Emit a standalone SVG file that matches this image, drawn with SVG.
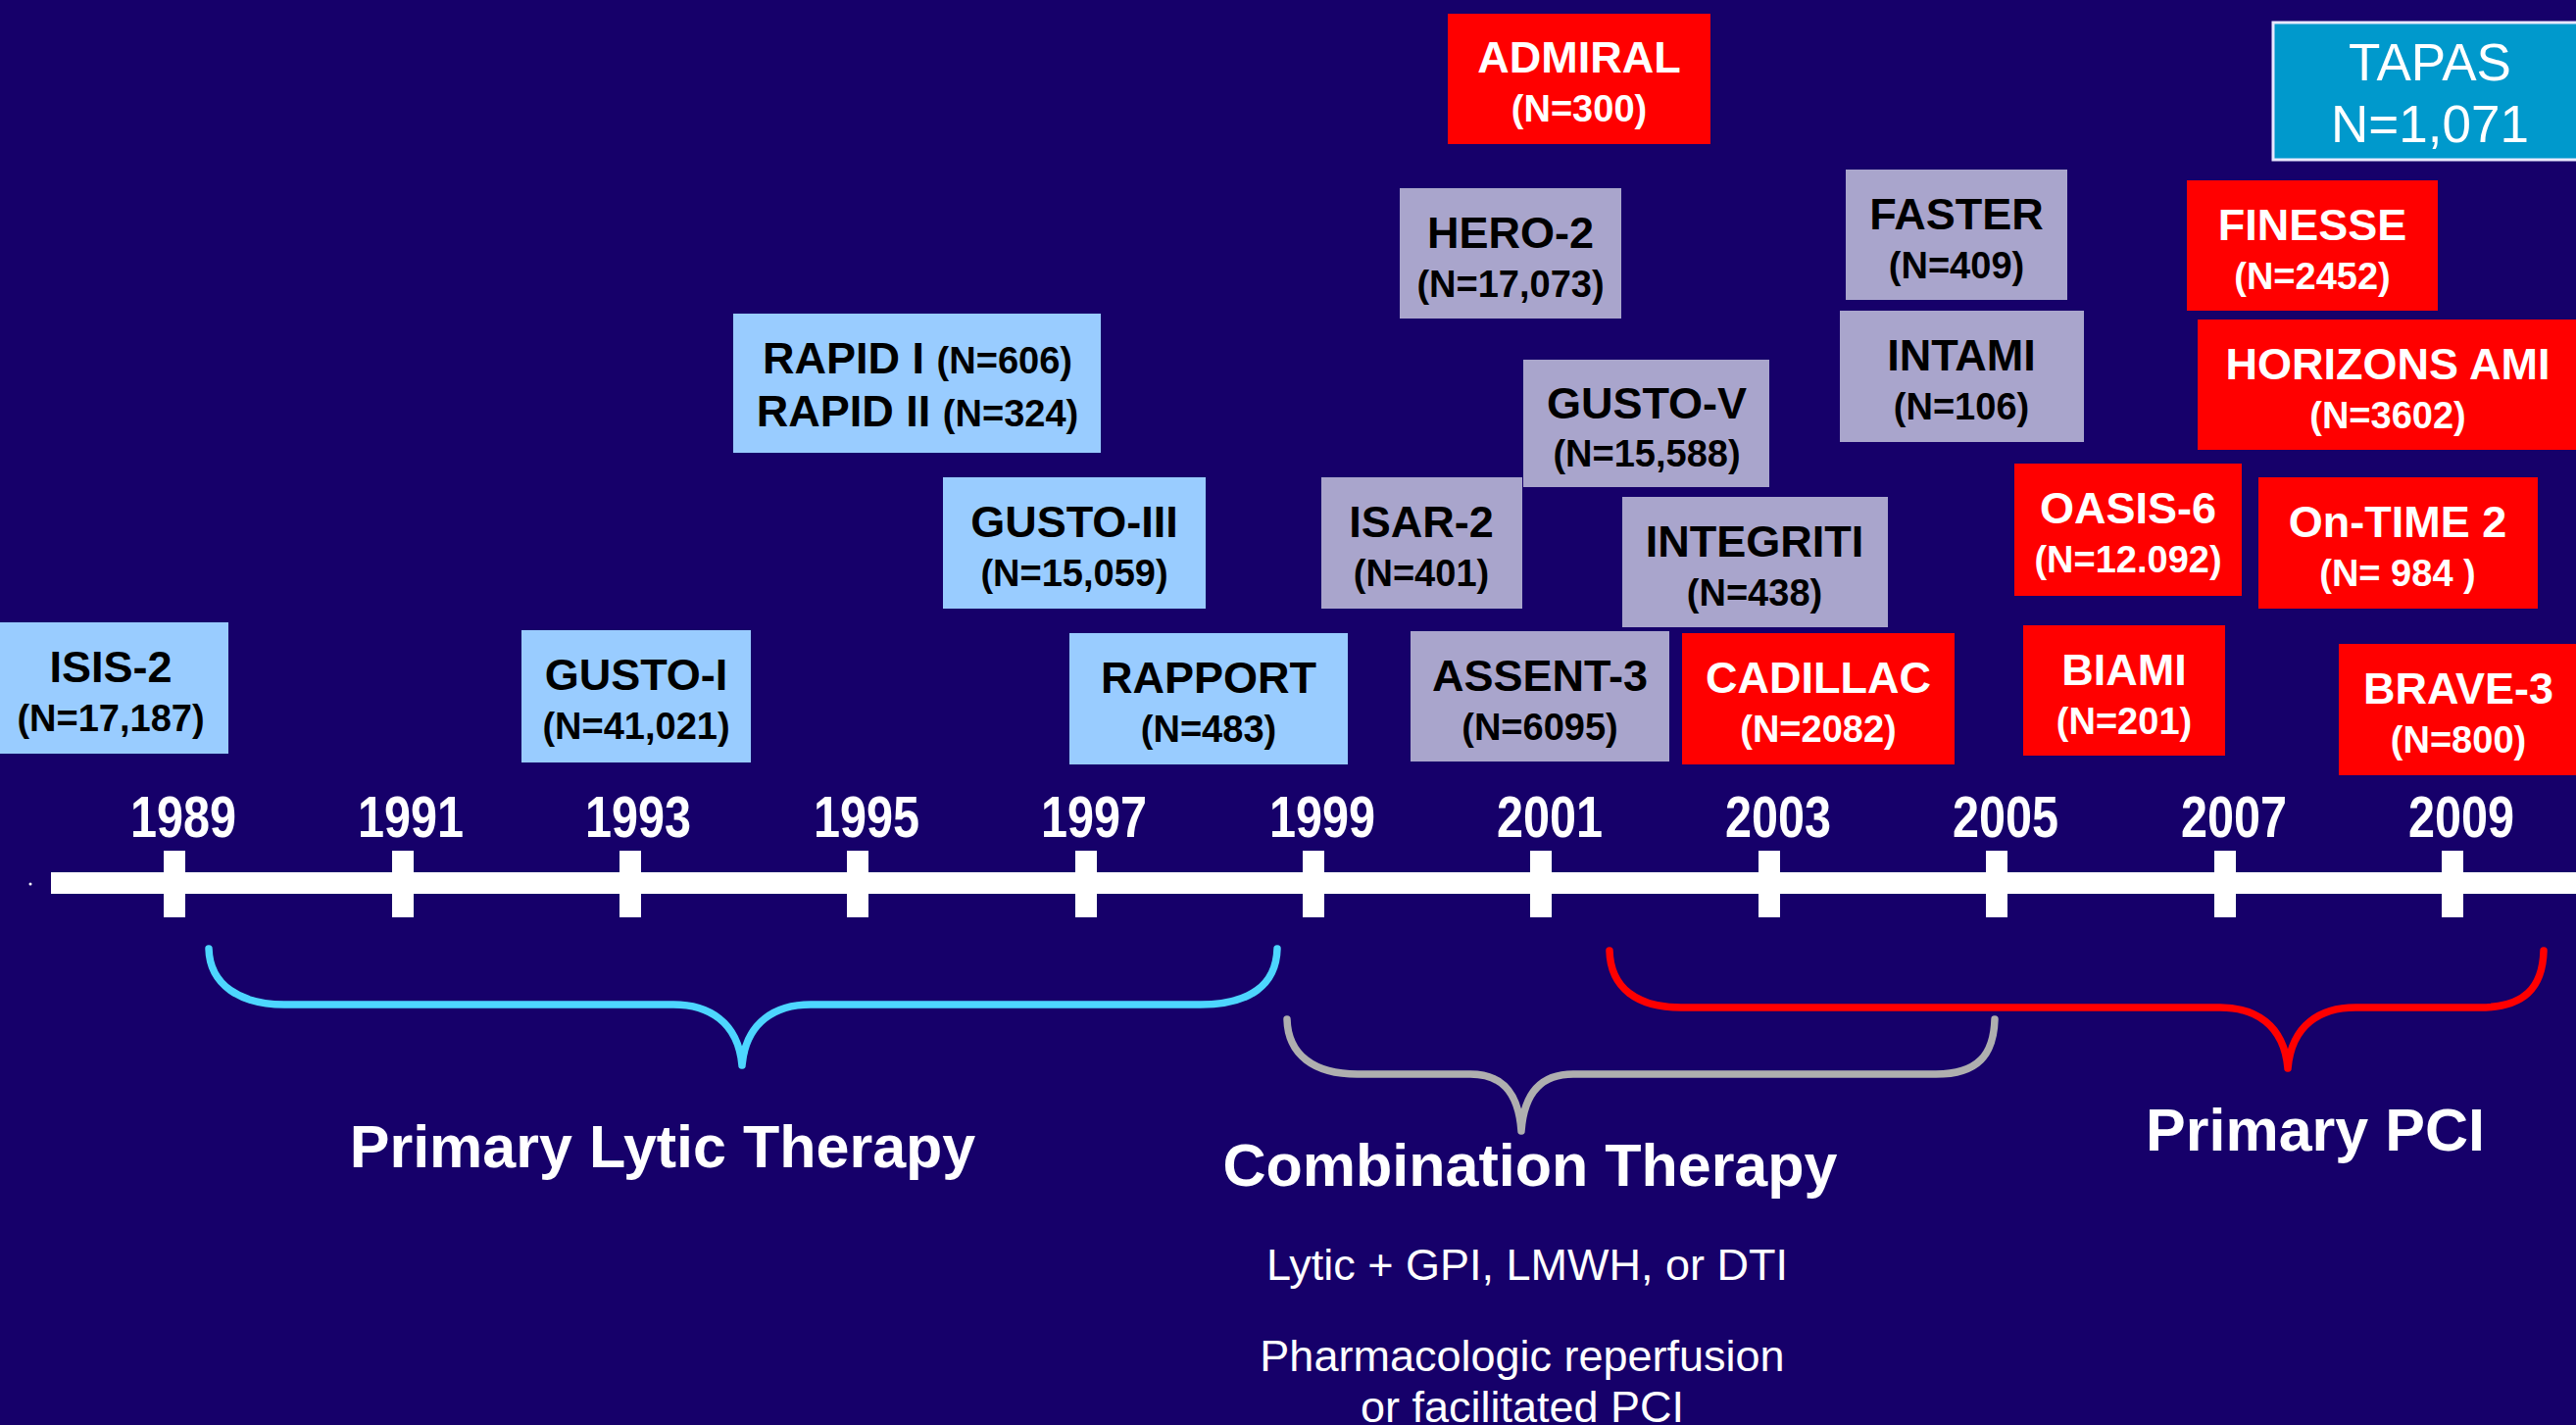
<svg xmlns="http://www.w3.org/2000/svg" width="2628" height="1454" viewBox="0 0 2628 1454">
<style>
  text { font-family: "Liberation Sans", Arial, sans-serif; }
  .blue { fill: #99CCFF; }
  .gray { fill: #A9A5CC; }
  .red { fill: #FF0000; }
  .t { font-size: 45px; font-weight: bold; text-anchor: middle; }
  .n { font-size: 38px; font-weight: bold; text-anchor: middle; }
  .dk { fill: #000000; }
  .wt { fill: #FFFFFF; }
  .yr { font-size: 60px; font-weight: bold; fill: #FFFFFF; text-anchor: middle; }
  .sec { font-size: 61px; font-weight: bold; fill: #FFFFFF; text-anchor: middle; }
  .sub { font-size: 45px; fill: #FFFFFF; text-anchor: middle; }
  .tick { fill: #FFFFFF; }
  .brace { fill: none; stroke-width: 7.5; stroke-linecap: round; stroke-linejoin: round; }
</style>
<rect x="0" y="0" width="2628" height="1454" fill="#16006A"/>

<!-- timeline axis -->
<g id="timeline">
  <circle cx="31" cy="902" r="1.5" fill="#FFFFFF"/>
  <rect x="52" y="890" width="2576" height="22" fill="#FFFFFF"/>
  <rect class="tick" x="167" y="868" width="22" height="68"/>
  <rect class="tick" x="400" y="868" width="22" height="68"/>
  <rect class="tick" x="632" y="868" width="22" height="68"/>
  <rect class="tick" x="864" y="868" width="22" height="68"/>
  <rect class="tick" x="1097" y="868" width="22" height="68"/>
  <rect class="tick" x="1329" y="868" width="22" height="68"/>
  <rect class="tick" x="1561" y="868" width="22" height="68"/>
  <rect class="tick" x="1794" y="868" width="22" height="68"/>
  <rect class="tick" x="2026" y="868" width="22" height="68"/>
  <rect class="tick" x="2259" y="868" width="22" height="68"/>
  <rect class="tick" x="2491" y="868" width="22" height="68"/>
  <text class="yr" x="187" y="854" textLength="108" lengthAdjust="spacingAndGlyphs">1989</text>
  <text class="yr" x="419" y="854" textLength="108" lengthAdjust="spacingAndGlyphs">1991</text>
  <text class="yr" x="651" y="854" textLength="108" lengthAdjust="spacingAndGlyphs">1993</text>
  <text class="yr" x="884" y="854" textLength="108" lengthAdjust="spacingAndGlyphs">1995</text>
  <text class="yr" x="1116" y="854" textLength="108" lengthAdjust="spacingAndGlyphs">1997</text>
  <text class="yr" x="1349" y="854" textLength="108" lengthAdjust="spacingAndGlyphs">1999</text>
  <text class="yr" x="1581" y="854" textLength="108" lengthAdjust="spacingAndGlyphs">2001</text>
  <text class="yr" x="1814" y="854" textLength="108" lengthAdjust="spacingAndGlyphs">2003</text>
  <text class="yr" x="2046" y="854" textLength="108" lengthAdjust="spacingAndGlyphs">2005</text>
  <text class="yr" x="2279" y="854" textLength="108" lengthAdjust="spacingAndGlyphs">2007</text>
  <text class="yr" x="2511" y="854" textLength="108" lengthAdjust="spacingAndGlyphs">2009</text>
</g>

<!-- braces -->
<g id="connectors">
  <path class="brace" stroke="#4DD6FF" d="M213,968 C214,1005 245,1025 290,1025 L687,1025 C722,1025 753,1042 757,1087 M757,1087 C761,1042 792,1025 827,1025 L1225,1025 C1275,1025 1302,1005 1303,968"/>
  <path class="brace" stroke="#AFAFAF" d="M1313,1040 C1314,1076 1340,1096 1385,1096 L1500,1096 C1530,1096 1549,1112 1552,1154 M1552,1154 C1555,1112 1575,1096 1605,1096 L1975,1096 C2018,1096 2034,1076 2035,1040"/>
  <path class="brace" stroke="#FF0000" d="M1642,970 C1643,1008 1670,1028 1715,1028 L2265,1028 C2300,1028 2330,1045 2334,1090 M2334,1090 C2338,1045 2368,1028 2403,1028 L2530,1028 C2575,1028 2594,1008 2595,970"/>
</g>

<!-- section labels -->
<g id="label-lytic"><text class="sec" x="676" y="1191">Primary Lytic Therapy</text></g>
<g id="label-combination">
  <text class="sec" x="1561" y="1210">Combination Therapy</text>
  <text class="sub" x="1558" y="1306">Lytic + GPI, LMWH, or DTI</text>
  <text class="sub" x="1553" y="1399">Pharmacologic reperfusion</text>
  <text class="sub" x="1553" y="1451">or facilitated PCI</text>
</g>
<g id="label-pci"><text class="sec" x="2362" y="1174">Primary PCI</text></g>

<!-- light blue: lytic trials -->
<g id="isis2"><rect class="blue" x="-2" y="635" width="235" height="134"/>
  <text class="t dk" x="113" y="696">ISIS-2</text><text class="n dk" x="113" y="746">(N=17,187)</text></g>
<g id="gusto1"><rect class="blue" x="532" y="643" width="234" height="135"/>
  <text class="t dk" x="649" y="704">GUSTO-I</text><text class="n dk" x="649" y="754">(N=41,021)</text></g>
<g id="rapid"><rect class="blue" x="748" y="320" width="375" height="142"/>
  <text class="t dk" x="936" y="381">RAPID I <tspan font-size="38px">(N=606)</tspan></text>
  <text class="t dk" x="936" y="435">RAPID II <tspan font-size="38px">(N=324)</tspan></text></g>
<g id="gusto3"><rect class="blue" x="962" y="487" width="268" height="134"/>
  <text class="t dk" x="1096" y="548">GUSTO-III</text><text class="n dk" x="1096" y="598">(N=15,059)</text></g>
<g id="rapport"><rect class="blue" x="1091" y="646" width="284" height="134"/>
  <text class="t dk" x="1233" y="707">RAPPORT</text><text class="n dk" x="1233" y="757">(N=483)</text></g>

<!-- gray: combination trials -->
<g id="hero2"><rect class="gray" x="1428" y="192" width="226" height="133"/>
  <text class="t dk" x="1541" y="253">HERO-2</text><text class="n dk" x="1541" y="303">(N=17,073)</text></g>
<g id="gusto5"><rect class="gray" x="1554" y="367" width="251" height="130"/>
  <text class="t dk" x="1680" y="427">GUSTO-V</text><text class="n dk" x="1680" y="476">(N=15,588)</text></g>
<g id="isar2"><rect class="gray" x="1348" y="487" width="205" height="134"/>
  <text class="t dk" x="1450" y="548">ISAR-2</text><text class="n dk" x="1450" y="598">(N=401)</text></g>
<g id="integriti"><rect class="gray" x="1655" y="507" width="271" height="133"/>
  <text class="t dk" x="1790" y="568">INTEGRITI</text><text class="n dk" x="1790" y="618">(N=438)</text></g>
<g id="assent3"><rect class="gray" x="1439" y="644" width="264" height="133"/>
  <text class="t dk" x="1571" y="705">ASSENT-3</text><text class="n dk" x="1571" y="755">(N=6095)</text></g>
<g id="faster"><rect class="gray" x="1883" y="173" width="226" height="133"/>
  <text class="t dk" x="1996" y="234">FASTER</text><text class="n dk" x="1996" y="284">(N=409)</text></g>
<g id="intami"><rect class="gray" x="1877" y="317" width="249" height="134"/>
  <text class="t dk" x="2001" y="378">INTAMI</text><text class="n dk" x="2001" y="428">(N=106)</text></g>

<!-- red: PCI trials -->
<g id="admiral"><rect class="red" x="1477" y="14" width="268" height="133"/>
  <text class="t wt" x="1611" y="74">ADMIRAL</text><text class="n wt" x="1611" y="124">(N=300)</text></g>
<g id="cadillac"><rect class="red" x="1716" y="646" width="278" height="134"/>
  <text class="t wt" x="1855" y="707">CADILLAC</text><text class="n wt" x="1855" y="757">(N=2082)</text></g>
<g id="finesse"><rect class="red" x="2231" y="184" width="256" height="133"/>
  <text class="t wt" x="2359" y="245">FINESSE</text><text class="n wt" x="2359" y="295">(N=2452)</text></g>
<g id="horizons"><rect class="red" x="2242" y="326" width="400" height="133"/>
  <text class="t wt" x="2436" y="387">HORIZONS AMI</text><text class="n wt" x="2436" y="437">(N=3602)</text></g>
<g id="oasis6"><rect class="red" x="2055" y="473" width="232" height="135"/>
  <text class="t wt" x="2171" y="534">OASIS-6</text><text class="n wt" x="2171" y="584">(N=12.092)</text></g>
<g id="ontime2"><rect class="red" x="2304" y="487" width="285" height="134"/>
  <text class="t wt" x="2446" y="548">On-TIME 2</text><text class="n wt" x="2446" y="598">(N= 984 )</text></g>
<g id="biami"><rect class="red" x="2064" y="638" width="206" height="133"/>
  <text class="t wt" x="2167" y="699">BIAMI</text><text class="n wt" x="2167" y="749">(N=201)</text></g>
<g id="brave3"><rect class="red" x="2386" y="657" width="256" height="134"/>
  <text class="t wt" x="2508" y="718">BRAVE-3</text><text class="n wt" x="2508" y="768">(N=800)</text></g>

<!-- TAPAS -->
<g id="tapas"><rect x="2319" y="23" width="330" height="140" fill="#0099CC" stroke="#E8E8FF" stroke-width="3"/>
  <text x="2479" y="82" font-size="53" fill="#FFFFFF" text-anchor="middle">TAPAS</text>
  <text x="2479" y="145" font-size="53" fill="#FFFFFF" text-anchor="middle">N=1,071</text></g>
</svg>
